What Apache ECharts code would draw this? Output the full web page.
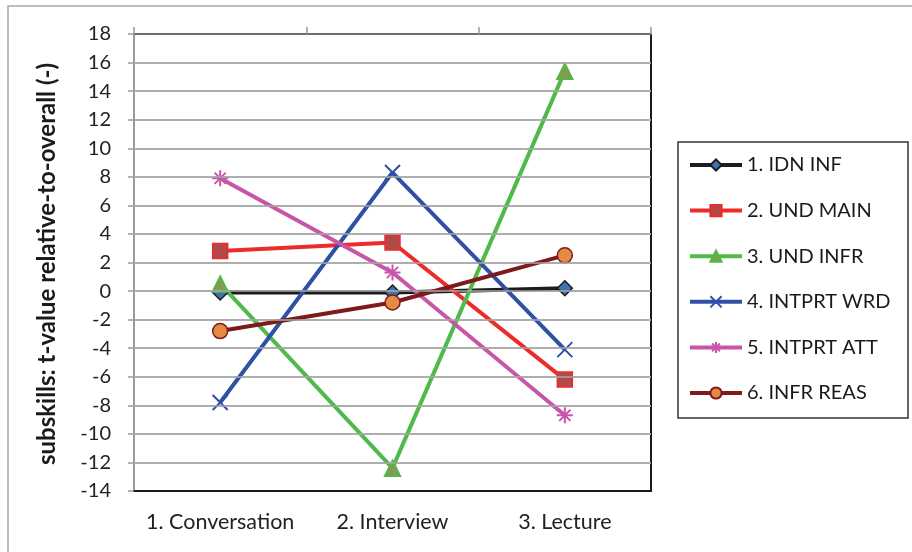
<!DOCTYPE html>
<html>
<head>
<meta charset="utf-8">
<script src="https://cdn.jsdelivr.net/npm/echarts@6/dist/echarts.min.js"></script>
<style>
  html, body { margin: 0; padding: 0; background: #fff; }
  #chart { width: 912px; height: 552px; }
</style>
</head>
<body>
<div id="chart"></div>
<script>
// Listening-task categories and subskill t-values
const categories = ['1. Conversation', '2. Interview', '3. Lecture'];
const yTicks = { min: -14, max: 18, step: 2 };
const yTitle = 'subskills: t-value relative-to-overall (-)';

const idnInf     = [-0.1, -0.1, 0.2];
const undMain    = [2.8, 3.4, -6.2];
const undInfr    = [0.5, -12.4, 15.4];
const intprtWrd  = [-7.8, 8.3, -4.1];
const intprtAtt  = [7.9, 1.3, -8.7];
const infrReas   = [-2.8, -0.8, 2.5];

const FONT = 'Lato, "Open Sans", sans-serif';

const xMark = 'path://M0,0L10,10M10,0L0,10';
const starMark = 'path://M5,0L5,10M0,5L10,5M1.5,1.5L8.5,8.5M8.5,1.5L1.5,8.5';

// horizontal gridline levels, one per y tick
const gridLevels = [];
for (let v = yTicks.min + yTicks.step; v < yTicks.max; v += yTicks.step) gridLevels.push(v);

function lineSeries(name, data, lineColor, symbol, size, fill, border, bw) {
  return {
    name: name,
    type: 'line',
    data: data,
    symbol: symbol,
    symbolSize: size,
    xAxisIndex: 0,
    yAxisIndex: 0,
    lineStyle: { color: lineColor, width: 4 },
    itemStyle: { color: fill, borderColor: border, borderWidth: bw },
    emphasis: { disabled: true },
    z: 3
  };
}

const series = [
  lineSeries('1. IDN INF', idnInf, '#1c1c1c', 'diamond', 15, '#3d74b0', '#1c1c1c', 1.5),
  lineSeries('2. UND MAIN', undMain, '#ee2b2b', 'rect', 15, '#b24848', '#ee2b2b', 1.5),
  lineSeries('3. UND INFR', undInfr, '#4fba4a', 'triangle', 16, '#7f9e4f', '#4fba4a', 1.5),
  lineSeries('4. INTPRT WRD', intprtWrd, '#3050a6', xMark, 15, 'none', '#3050a6', 2),
  lineSeries('5. INTPRT ATT', intprtAtt, '#c856a8', starMark, 16, 'none', '#c856a8', 2),
  lineSeries('6. INFR REAS', infrReas, '#7e1a1a', 'circle', 15, '#e38a45', '#7e1a1a', 1.5)
];

// gridlines drawn through the value axis
const gridSeries = {
  name: 'grid',
  type: 'line',
  data: [],
  silent: true,
  z: 1,
  markLine: {
    silent: true,
    symbol: ['none', 'none'],
    label: { show: false },
    lineStyle: { color: '#a9a9a9', width: 1.5, type: 'solid' },
    emphasis: { disabled: true },
    data: gridLevels.map(v => ({ yAxis: v }))
  }
};

const chart = echarts.init(document.getElementById('chart'));
chart.setOption({
  backgroundColor: '#fff',
  animation: false,
  textStyle: { fontFamily: FONT },
  graphic: [{
    type: 'rect',
    shape: { x: 8, y: 6, width: 1000, height: 1000 },
    style: { fill: 'none', stroke: '#a8a8a8', lineWidth: 1.5 },
    silent: true
  }, {
    type: 'rect',
    shape: { x: 678, y: 142, width: 230, height: 276 },
    style: { fill: 'none', stroke: '#333', lineWidth: 1.5 },
    silent: true
  }, {
    // value-axis title, rotated to read bottom-to-top
    type: 'text',
    x: 47,
    y: 264,
    rotation: Math.PI / 2,
    silent: true,
    style: {
      text: yTitle,
      fontFamily: FONT,
      fontSize: 24,
      fontWeight: 'bold',
      fill: '#1a1a1a',
      align: 'center',
      verticalAlign: 'middle'
    }
  }],
  grid: {
    left: 134, right: 261, top: 34, bottom: 61,
    show: true, borderColor: '#1a1a1a', borderWidth: 2, backgroundColor: 'transparent'
  },
  legend: {
    orient: 'vertical',
    left: 678,
    top: 142,
    padding: [12, 6, 10, 10],
    itemWidth: 52,
    itemHeight: 14,
    itemGap: 23.6,
    lineStyle: { width: 4 },
    textStyle: { fontFamily: FONT, fontSize: 20, color: '#1a1a1a', lineHeight: 22 },
    data: series.map(s => s.name)
  },
  xAxis: [{
    type: 'category',
    data: categories,
    position: 'bottom',
    boundaryGap: true,
    axisLine: { onZero: false, lineStyle: { color: '#1a1a1a', width: 2 } },
    axisTick: { show: false },
    axisLabel: { fontFamily: FONT, fontSize: 21.5, color: '#222', margin: 20, interval: 0, hideOverlap: false },
    splitLine: { show: false }
  }, {
    type: 'category',
    data: categories,
    position: 'top',
    boundaryGap: true,
    axisLine: { onZero: false, lineStyle: { color: '#6e6e6e', width: 2 } },
    axisTick: { show: true, inside: false, length: 7, lineStyle: { color: '#999', width: 1.5 } },
    axisLabel: { show: false },
    splitLine: { show: false }
  }],
  yAxis: [{
    type: 'value',
    min: yTicks.min,
    max: yTicks.max,
    interval: yTicks.step,
    axisLine: { show: true, onZero: false, lineStyle: { color: '#9a9a9a', width: 2 } },
    axisTick: { show: true, length: 6, lineStyle: { color: '#9a9a9a', width: 1.5 } },
    axisLabel: { fontFamily: FONT, fontSize: 20, color: '#222', margin: 23 },
    splitLine: { show: true, lineStyle: { color: '#a9a9a9', width: 1.5, type: 'solid' } }
  }],
  series: [gridSeries].concat(series)
});
</script>
</body>
</html>
